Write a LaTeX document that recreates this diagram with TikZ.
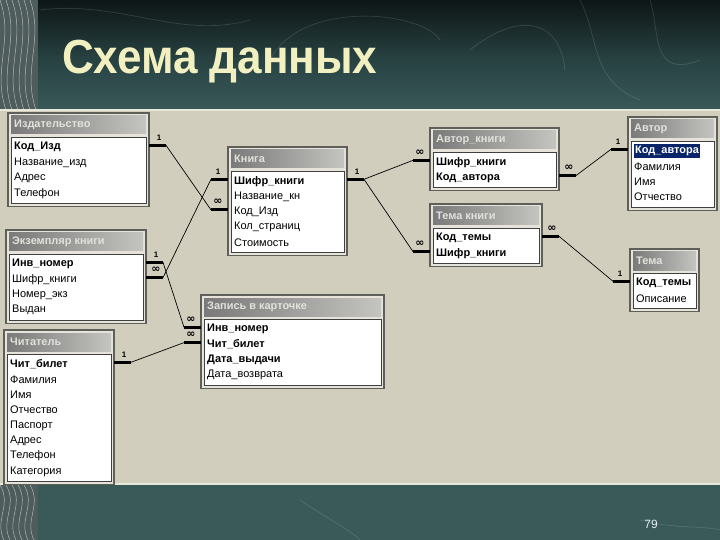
\documentclass[tikz,border=0pt]{standalone}
\usepackage{fontspec}
\setmainfont{Liberation Sans}
\newfontfamily\symfont{DejaVu Sans}
\usetikzlibrary{calc}

\definecolor{slidetop}{RGB}{14,22,22}
\definecolor{slidemid}{RGB}{40,66,66}
\definecolor{slideteal}{RGB}{58,89,89}
\definecolor{stripbg}{RGB}{78,92,92}
\definecolor{panelbg}{RGB}{210,206,190}
\definecolor{panelline}{RGB}{232,232,218}
\definecolor{winface}{RGB}{230,228,218}
\definecolor{winshade}{RGB}{95,95,90}
\definecolor{titleleft}{RGB}{122,122,122}
\definecolor{titleright}{RGB}{196,196,192}
\definecolor{titletext}{RGB}{226,226,220}
\definecolor{selblue}{RGB}{10,36,106}
\definecolor{headline}{RGB}{242,240,192}

\tikzset{
  tblframe/.style={fill=winface, draw=winshade, line width=1.2},
  tblbar/.style={left color=titleleft, right color=titleright},
  tbllist/.style={fill=white, draw=black!75, line width=0.8},
  tbltitle/.style={anchor=west, inner sep=0, text=titletext, font=\bfseries\fontsize{11}{12}\selectfont},
  fieldtxt/.style={anchor=west, inner sep=0, font=\fontsize{11}{12}\selectfont},
  keytxt/.style={fieldtxt, font=\bfseries\fontsize{11}{12}\selectfont},
  selkey/.style={keytxt, fill=selblue, text=white, inner xsep=1, inner ysep=2},
  relstub/.style={line width=3},
  relline/.style={line width=0.7},
  cardlbl/.style={inner sep=0, font=\bfseries\fontsize{8}{9}\selectfont},
  headtxt/.style={anchor=base west, inner sep=0, text=headline, font=\bfseries\fontsize{48}{50}\selectfont},
  pagenum/.style={inner sep=0, text=white!88!teal, font=\fontsize{12}{14}\selectfont},
  texline/.style={white, opacity=0.55, line width=0.5},
  faintline/.style={white, opacity=0.12, line width=0.8},
}

% name, left, top, right, rows, title, fields
\newcommand\dbtable[7]{%
  \draw[tblframe] (#2,#3) rectangle (#4,{#3+32+15.3*#5});
  \fill[tblbar] ({#2+3},{#3+3}) rectangle ({#4-3},{#3+21});
  \draw[tbllist] ({#2+3},{#3+24}) rectangle ({#4-3},{#3+29+15.3*#5});
  \node[tbltitle] (#1-t) at ({#2+6},{#3+12}) {#6};
  \foreach \st/\txt [count=\i] in {#7} {
    \node[\st] (#1-\i) at ({#2+6},{#3+19+15.3*\i}) {\txt};
    \coordinate (#1-\i-l) at (#2,{#3+17+15.3*\i});
    \coordinate (#1-\i-r) at (#4,{#3+17+15.3*\i});
  }%
}
\newcommand\cardmany{{\symfont\fontsize{11}{11}\selectfont ∞}}

\begin{document}
\begin{tikzpicture}[x=1bp, y=-1bp]
\useasboundingbox (0,0) rectangle (720,540);

% slide background
\fill[top color=slidetop, bottom color=slidemid] (0,0) rectangle (720,60);
\fill[top color=slidemid, bottom color=slideteal] (0,60) rectangle (720,110);
\fill[slideteal] (0,110) rectangle (720,540);
\draw[faintline] (40,10) .. controls (120,0) and (180,40) .. (250,20);
\draw[faintline] (270,60) .. controls (300,0) and (420,10) .. (440,40);
\draw[faintline] (470,50) .. controls (520,10) and (560,20) .. (565,70);
\draw[faintline] (580,0) .. controls (600,40) and (590,80) .. (640,100);
\draw[faintline] (650,0) .. controls (660,30) and (650,80) .. (700,60);
\draw[faintline] (300,500) .. controls (330,520) and (350,530) .. (360,540);
\draw[faintline] (640,520) .. controls (680,530) and (700,525) .. (720,530);

% left texture strip
\fill[stripbg] (0,0) rectangle (38,110);
\fill[stripbg] (0,485) rectangle (38,540);
\foreach \k in {0,6,...,30} {
  \draw[texline] (\k,0) .. controls ({\k+14},40) and ({\k-8},70) .. ({\k+6},110);
  \draw[texline] (\k,485) .. controls ({\k+12},505) and ({\k-6},520) .. ({\k+4},540);
}

% panel
\fill[panelbg] (0,110) rectangle (720,485);
\draw[panelline, line width=1.5] (0,110) -- (720,110);
\draw[panelline, line width=1.5] (0,484) -- (720,484);

% title
\node[headtxt] (head) at (62,74) {\scalebox{0.92}[1]{Схема данных}};
\node[pagenum] (pnum) at (651,524) {79};

% tables
\dbtable{izd}{8}{113}{149}{4}{Издательство}{keytxt/Код\_Изд, fieldtxt/Название\_изд, fieldtxt/Адрес, fieldtxt/Телефон}
\dbtable{kniga}{228}{147}{347}{5}{Книга}{keytxt/Шифр\_книги, fieldtxt/Название\_кн, fieldtxt/Код\_Изд, fieldtxt/Кол\_страниц, fieldtxt/Стоимость}
\dbtable{avk}{430}{128}{559}{2}{Автор\_книги}{keytxt/Шифр\_книги, keytxt/Код\_автора}
\dbtable{temk}{430}{204}{542}{2}{Тема книги}{keytxt/Код\_темы, keytxt/Шифр\_книги}
\dbtable{avtor}{628}{117}{717}{4}{Автор}{selkey/Код\_автора, fieldtxt/Фамилия, fieldtxt/Имя, fieldtxt/Отчество}
\dbtable{tema}{630}{249}{699}{2}{Тема}{keytxt/Код\_темы, fieldtxt/Описание}
\dbtable{ekz}{6}{230}{146}{4}{Экземпляр книги}{keytxt/Инв\_номер, fieldtxt/Шифр\_книги, fieldtxt/Номер\_экз, fieldtxt/Выдан}
\dbtable{zap}{201}{295}{384}{4}{Запись в карточке}{keytxt/Инв\_номер, keytxt/Чит\_билет, keytxt/Дата\_выдачи, fieldtxt/Дата\_возврата}
\dbtable{chit}{4}{330}{114}{8}{Читатель}{keytxt/Чит\_билет, fieldtxt/Фамилия, fieldtxt/Имя, fieldtxt/Отчество, fieldtxt/Паспорт, fieldtxt/Адрес, fieldtxt/Телефон, fieldtxt/Категория}

% relation stubs: row, side, cardinality, end
\foreach \rowc/\dir/\card/\nm in {
    izd-1-r/1/1/a1, kniga-3-l/-1/\cardmany/a2,
    kniga-1-l/-1/1/b1, ekz-2-r/1/\cardmany/b2,
    ekz-1-r/1/1/c1, zap-1-l/-1/\cardmany/c2,
    chit-1-r/1/1/d1, zap-2-l/-1/\cardmany/d2,
    kniga-1-r/1/1/e1, avk-1-l/-1/\cardmany/e2, temk-2-l/-1/\cardmany/f2,
    avk-2-r/1/\cardmany/g1, avtor-1-l/-1/1/g2,
    temk-1-r/1/\cardmany/h1, tema-1-l/-1/1/h2} {
  \draw[relstub] (\rowc) -- ++({\dir*17},0) coordinate (\nm);
  \node[cardlbl] (\nm-c) at ($(\rowc)+({\dir*10},-8)$) {\card};
}

% relation lines
\draw[relline] (a1) -- (a2);
\draw[relline] (b1) -- (b2);
\draw[relline] (c1) -- (c2);
\draw[relline] (d1) -- (d2);
\draw[relline] (e1) -- (e2);
\draw[relline] (e1) -- (f2);
\draw[relline] (g1) -- (g2);
\draw[relline] (h1) -- (h2);
\end{tikzpicture}
\end{document}
